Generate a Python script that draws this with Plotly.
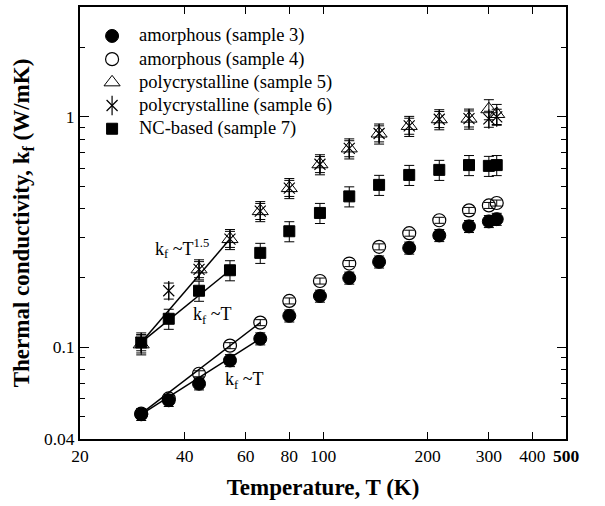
import plotly.graph_objects as go

# Temperatures (K)
temps = [30, 36, 44, 54, 66, 80, 98, 119, 145, 177, 216, 263, 300, 316]

# Thermal conductivity k_f (W/mK) for each sample
k_amorph3 = [0.0512, 0.0589, 0.0695, 0.0877, 0.109, 0.137, 0.167, 0.200, 0.235, 0.270, 0.306, 0.335, 0.352, 0.360]
k_amorph4 = [0.0515, 0.0600, 0.0768, 0.1017, 0.128, 0.159, 0.194, 0.231, 0.273, 0.313, 0.356, 0.393, 0.413, 0.423]
k_poly5 = [0.103, None, 0.218, 0.295, 0.390, 0.491, 0.623, 0.730, 0.847, 0.914, 0.977, 0.983, 1.08, 1.03]
k_poly6 = [0.105, 0.176, 0.218, 0.295, 0.390, 0.491, 0.623, 0.730, 0.847, 0.914, 0.977, 0.983, 0.98, 1.00]
k_nc7 = [0.105, 0.133, 0.176, 0.216, 0.257, 0.319, 0.383, 0.452, 0.507, 0.560, 0.589, 0.618, 0.613, 0.618]

# Relative uncertainties (%)
err_amorph3 = 6
err_amorph4 = 3
err_poly5 = 10
err_poly6 = 8
err_nc7 = 10

series_names = [
    "amorphous (sample 3)",
    "amorphous (sample 4)",
    "polycrystalline (sample 5)",
    "polycrystalline (sample 6)",
    "NC-based (sample 7)",
]

x_tickvals = [20, 40, 60, 80, 100, 200, 300, 400, 500]
x_ticktext = ["20", "40", "60", "80", "100", "200", "300", "400", "<b>500</b>"]
y_tickvals = [0.04, 0.1, 1]
y_ticktext = ["0.04", "0.1", "1"]

# Number of low-temperature points spanned by the power-law guide lines
n_fit_amorph = 5
n_fit_upper = 4

FONT = "Liberation Serif, Times New Roman, serif"

# marker styles: (symbol, size, fill, line width); sample 6 is a 6-armed star
STYLES = [
    [("circle", 13, "black", 1.0)],
    [("circle-open", 13, "black", 1.2)],
    [("triangle-up-open", 14, "black", 1.0)],
    [("x-thin-open", 11, "black", 1.2), ("line-ns-open", 14, "black", 1.2)],
    [("square", 11, "black", 1.0)],
]
SERIES = [k_amorph3, k_amorph4, k_poly5, k_poly6, k_nc7]
ERRORS = [err_amorph3, err_amorph4, err_poly5, err_poly6, err_nc7]

fig = go.Figure()


def add_guide(y, n):
    fig.add_trace(go.Scatter(
        x=[temps[0], temps[n - 1]], y=[y[0], y[n - 1]],
        mode="lines", line=dict(color="black", width=1.5),
        showlegend=False, hoverinfo="skip",
    ))


# guide lines drawn first so the symbols sit on top
add_guide(k_amorph3, n_fit_amorph)
add_guide(k_amorph4, n_fit_amorph)
add_guide(k_poly6, n_fit_upper)
add_guide(k_nc7, n_fit_upper)

for y, err, name, parts in zip(SERIES, ERRORS, series_names, STYLES):
    for j, (sym, size, fill, lw) in enumerate(parts):
        fig.add_trace(go.Scatter(
            x=temps, y=y, mode="markers", name=name, showlegend=False,
            marker=dict(symbol=sym, size=size, color=fill,
                        line=dict(color="black", width=lw)),
            error_y=(dict(type="percent", value=err, color="black",
                          thickness=1, width=5) if j == 0 else dict(visible=False)),
        ))

# legend block (key symbols on an overlay axis spanning the plot area 0..1)
LEG_KEY_X = 0.066
LEG_TEXT_X = 0.117
LEG_TOP = 0.933
LEG_STEP = 0.0537
for i, (name, parts) in enumerate(zip(series_names, STYLES)):
    yy = LEG_TOP - i * LEG_STEP
    for sym, size, fill, lw in parts:
        fig.add_trace(go.Scatter(
            x=[LEG_KEY_X], y=[yy], xaxis="x2", yaxis="y2", mode="markers",
            showlegend=False, hoverinfo="skip",
            marker=dict(symbol=sym, size=size, color=fill,
                        line=dict(color="black", width=lw)),
        ))
    fig.add_annotation(text=name, xref="paper", yref="paper", x=LEG_TEXT_X, y=yy,
                       xanchor="left", yanchor="middle", showarrow=False,
                       font=dict(family=FONT, size=18.5, color="black"))

tick_font = dict(family=FONT, size=17.5, color="black")

fig.update_layout(
    xaxis=dict(
        type="log", range=[1.30103, 2.69897],
        tickmode="array", tickvals=x_tickvals, ticktext=x_ticktext,
        ticks="inside", ticklen=7, tickwidth=1.2, tickcolor="black",
        mirror="allticks", showline=True, linecolor="black", linewidth=1.8,
        showgrid=False, zeroline=False, tickfont=tick_font,
        title=dict(text="<b>Temperature, T (K)</b>",
                   font=dict(family=FONT, size=23, color="black"), standoff=14),
    ),
    yaxis=dict(
        type="log", range=[-1.39794, 0.47712],
        tickmode="array", tickvals=y_tickvals, ticktext=y_ticktext,
        ticks="inside", ticklen=9, tickwidth=1.2, tickcolor="black",
        minor=dict(tickmode="array",
                   tickvals=[0.05, 0.06, 0.07, 0.08, 0.09,
                             0.2, 0.3, 0.4, 0.5, 0.6, 0.7, 0.8, 0.9, 2],
                   ticks="inside", ticklen=5, tickwidth=1.2, tickcolor="black"),
        mirror="allticks", showline=True, linecolor="black", linewidth=1.8,
        showgrid=False, zeroline=False, tickfont=tick_font,
        title=dict(text="<b>Thermal conductivity, k<sub>f</sub> (W/mK)</b>",
                   font=dict(family=FONT, size=23, color="black"), standoff=8),
    ),
    xaxis2=dict(overlaying="x", range=[0, 1], visible=False, fixedrange=True),
    yaxis2=dict(overlaying="y", range=[0, 1], visible=False, fixedrange=True),
)

label_font = dict(family=FONT, size=18, color="black")
fig.add_annotation(text="k<sub>f</sub> ~T<sup>1.5</sup>", xref="paper", yref="paper",
                   x=0.151, y=0.44, xanchor="left", yanchor="middle",
                   showarrow=False, font=label_font)
fig.add_annotation(text="k<sub>f</sub> ~T", xref="paper", yref="paper",
                   x=0.229, y=0.286, xanchor="left", yanchor="middle",
                   showarrow=False, font=label_font)
fig.add_annotation(text="k<sub>f</sub> ~T", xref="paper", yref="paper",
                   x=0.294, y=0.136, xanchor="left", yanchor="middle",
                   showarrow=False, font=label_font)

fig.update_layout(
    width=605, height=506,
    margin=dict(l=80, r=39, t=5, b=67),
    paper_bgcolor="white", plot_bgcolor="white",
    font=dict(family=FONT, color="black"),
    showlegend=False,
)

fig.write_html("out.html")
